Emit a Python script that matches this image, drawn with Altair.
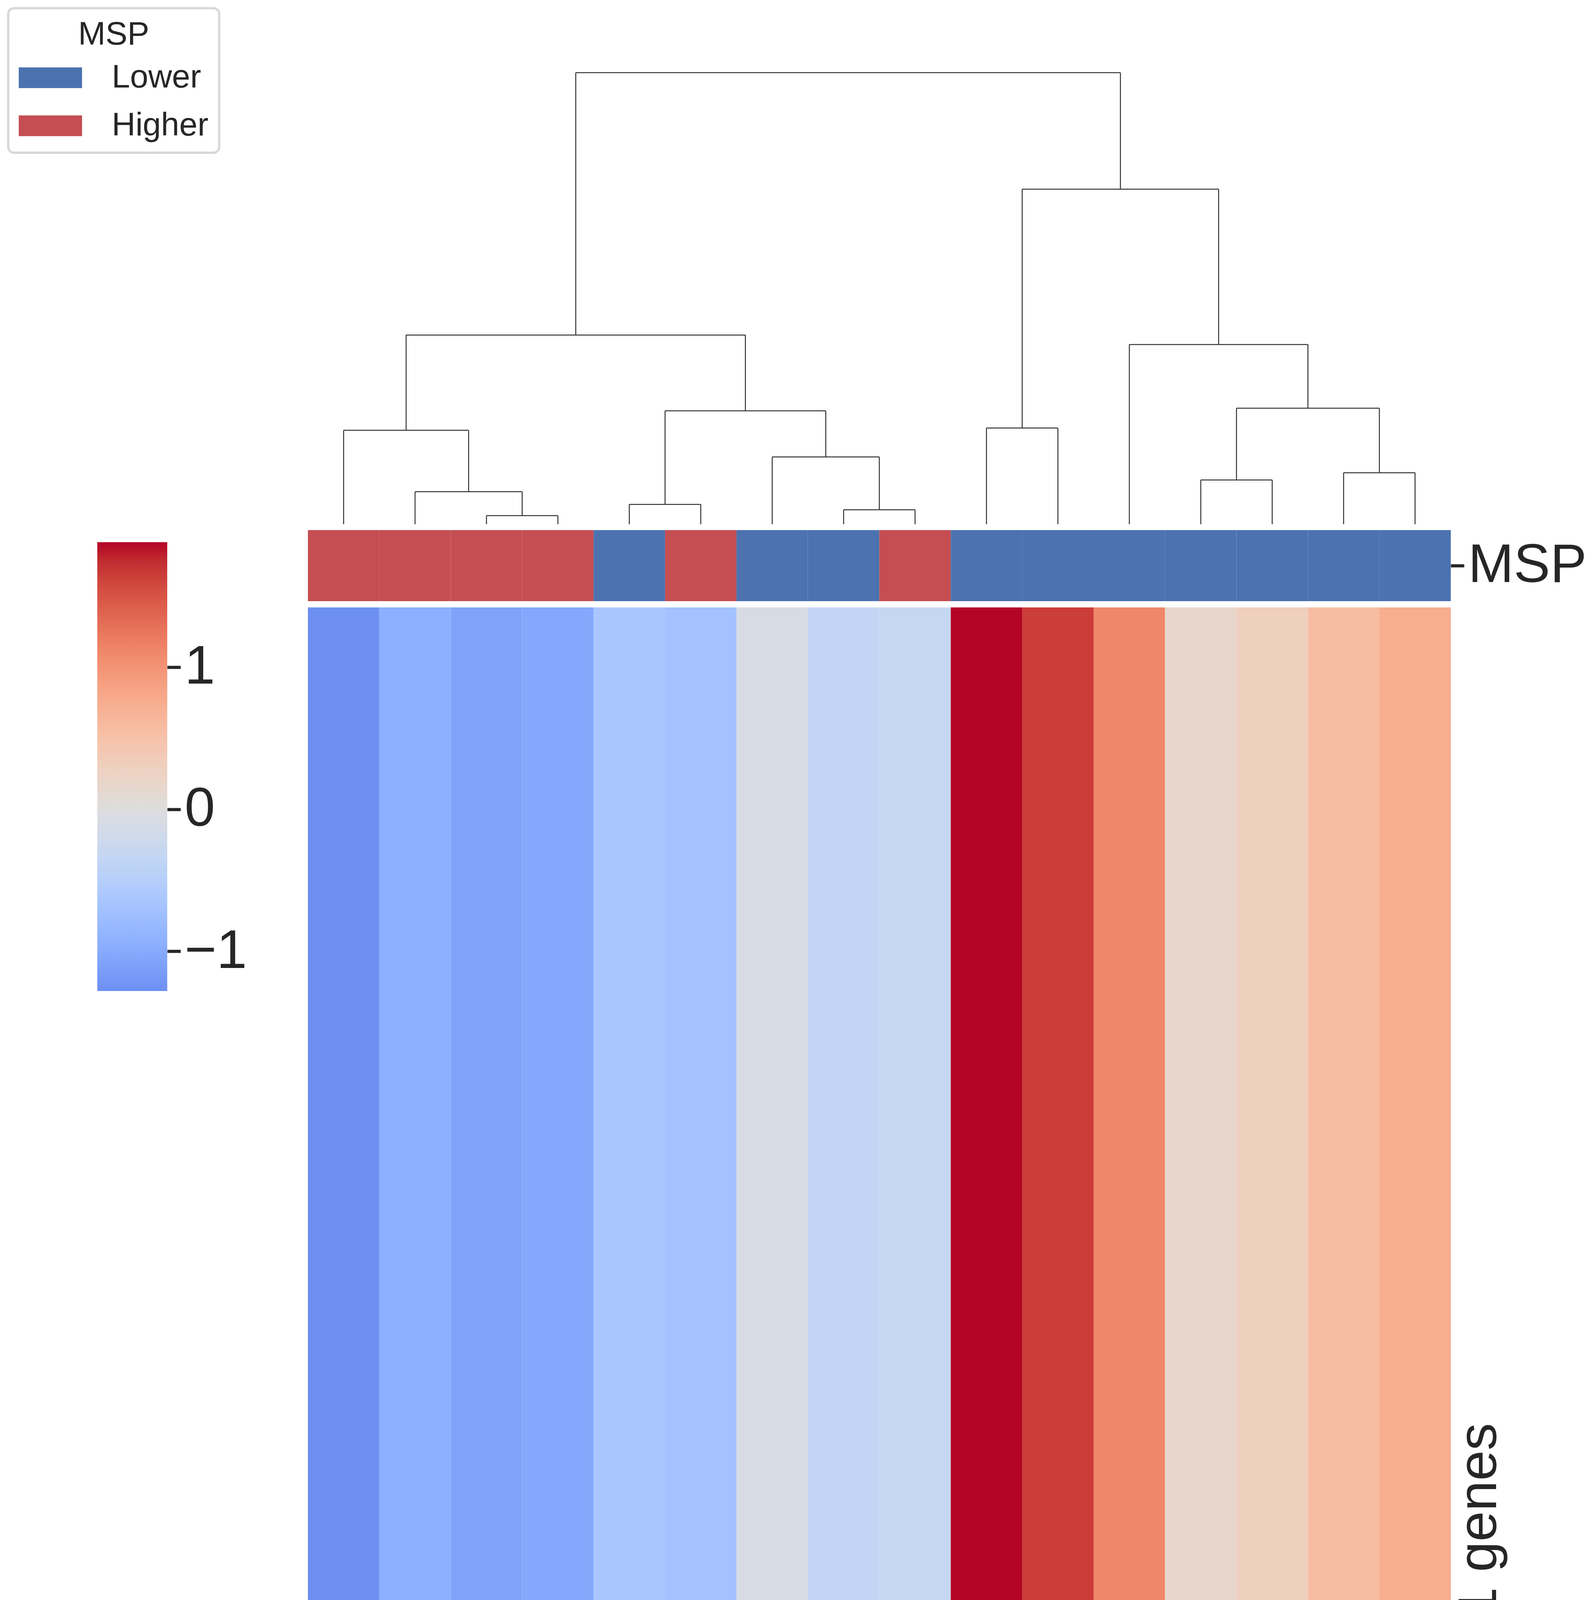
import altair as alt
import pandas as pd

# columns in the order the clustermap drew them (left to right)
samples = [f"S{i:02d}" for i in range(1, 17)]
msp_group = ["Higher", "Higher", "Higher", "Higher", "Lower", "Higher", "Lower", "Lower",
             "Higher", "Lower", "Lower", "Lower", "Lower", "Lower", "Lower", "Lower"]
expression = [-1.28, -0.94, -1.08, -1.03, -0.64, -0.70, -0.09, -0.35,
              -0.30, 1.88, 1.65, 1.10, 0.17, 0.30, 0.56, 0.75]

# dendrogram linkage: leaves are 0..15, merge k gets id 16 + k
link_left = [2, 1, 0, 4, 7, 6, 19, 18, 9, 12, 14, 25, 11, 24, 23]
link_right = [3, 16, 17, 5, 8, 20, 21, 22, 10, 13, 15, 26, 27, 28, 29]
link_height = [0.19, 0.72, 2.08, 0.44, 0.32, 1.49, 2.51, 4.19, 2.13, 0.98, 1.14, 2.57, 3.98, 7.42, 10.0]

msp_domain = ["Lower", "Higher"]
msp_colors = ["#4c72b0", "#c44e52"]

# matplotlib coolwarm, 33 stops
coolwarm = ["#3b4cc0", "#445acc", "#4d68d7", "#5775e1", "#6282ea", "#6c8ef1", "#779af7", "#82a5fb",
            "#8db0fe", "#98b9ff", "#a3c2ff", "#aec9fd", "#b8d0f9", "#c2d5f4", "#ccd9ee", "#d5dbe6",
            "#dddddd", "#e5d8d1", "#ecd3c5", "#f1ccb9", "#f5c4ad", "#f7bba0", "#f7b194", "#f7a687",
            "#f49a7b", "#f18d6f", "#ec7f63", "#e57058", "#de604d", "#d55042", "#cb3e38", "#c0282f",
            "#b40426"]

TXT = "#262626"

# ── tables ──
df = pd.DataFrame({"sample": samples, "msp": msp_group, "expression": expression})
df["gene"] = "gene"
df["track"] = "MSP"

pos = {i: i + 0.5 for i in range(len(samples))}
hgt = {i: 0.0 for i in range(len(samples))}
segs = []
for k, (a, b, h) in enumerate(zip(link_left, link_right, link_height)):
    xa, xb = pos[a], pos[b]
    segs.append(dict(x=xa, x2=xa, y=hgt[a], y2=h))
    segs.append(dict(x=xb, x2=xb, y=hgt[b], y2=h))
    segs.append(dict(x=xa, x2=xb, y=h, y2=h))
    pos[16 + k] = (xa + xb) / 2
    hgt[16 + k] = h
seg_df = pd.DataFrame(segs)

# seaborn centred colormap: 0 sits in the middle of coolwarm
vmin, vmax = min(expression), max(expression)
vrange = max(abs(vmin), abs(vmax))
n = len(coolwarm) - 1
cw_values = [(i / n - 0.5) * 2 * vrange for i in range(n + 1)]


def hex2rgb(h):
    return [int(h[i:i + 2], 16) for i in (1, 3, 5)]


def color_at(v):
    for i in range(n):
        if cw_values[i] <= v <= cw_values[i + 1]:
            f = (v - cw_values[i]) / (cw_values[i + 1] - cw_values[i])
            a, b = hex2rgb(coolwarm[i]), hex2rgb(coolwarm[i + 1])
            return "#" + "".join(f"{round(p + (q - p) * f):02x}" for p, q in zip(a, b))
    return coolwarm[-1]


stops = [alt.GradientStop(color=color_at(vmin), offset=0)]
for v, c in zip(cw_values, coolwarm):
    if vmin < v <= vmax:
        stops.append(alt.GradientStop(color=c, offset=(v - vmin) / (vmax - vmin)))
gradient = alt.LinearGradient(gradient="linear", stops=stops, x1=0, x2=0, y1=1, y2=0)

cbar_df = pd.DataFrame({"bar": ["cbar"], "lo": [vmin], "hi": [vmax]})

W, H = 2925, 4673

# ── dendrogram ──
dendro = alt.Chart(seg_df).mark_rule(color="#333333", strokeWidth=2.5).encode(
    x=alt.X("x:Q", scale=alt.Scale(domain=[0, 16], nice=False, zero=False), axis=None),
    x2="x2:Q",
    y=alt.Y("y:Q", scale=alt.Scale(domain=[0, 10], range=[-213, -1369], nice=False, zero=False),
            axis=None),
    y2="y2:Q",
)

# ── MSP colour track ──
msp = alt.Chart(df).mark_rect().encode(
    x=alt.X("sample:N", sort=samples, axis=None),
    y=alt.Y("track:N", scale=alt.Scale(range=[-198, -16]),
            axis=alt.Axis(orient="right", title=None, domain=False, ticks=True, tickSize=34,
                          tickWidth=8, tickColor=TXT, labelFontSize=140, labelColor=TXT,
                          labelPadding=10, labelLimit=2000, grid=False)),
    color=alt.Color("msp:N", scale=alt.Scale(domain=msp_domain, range=msp_colors),
                    legend=alt.Legend(
                        orient="none", legendX=-767, legendY=-1534,
                        title="MSP", titleFontSize=84, titleFontWeight="normal",
                        titleColor=TXT, titleAnchor="middle", titleAlign="center",
                        titlePadding=-14, titleLimit=2000,
                        labelFontSize=84, labelColor=TXT, labelOffset=76, labelLimit=2000,
                        symbolType="M-1,-0.327H1V0.327H-1Z", symbolSize=26244,
                        symbolStrokeWidth=0, symbolOpacity=1, rowPadding=-10,
                        padding=27, strokeColor="#d9d9d9",
                        cornerRadius=15, fillColor="white")),
)

# ── heatmap ──
heat = alt.Chart(df).mark_rect().encode(
    x=alt.X("sample:N", sort=samples,
            axis=alt.Axis(orient="bottom", title="16 samples", labels=False, ticks=False,
                          domain=False, grid=False, titleFontSize=140, titleLimit=3000,
                          titleFontWeight="normal", titleColor=TXT, titlePadding=0)),
    y=alt.Y("gene:N",
            axis=alt.Axis(orient="right", title="1 genes", labels=False, ticks=False,
                          domain=False, grid=False, titleFontSize=140, titleLimit=3000,
                          titleFontWeight="normal", titleColor=TXT, titleAngle=270,
                          titleBaseline="top", titlePadding=4)),
    color=alt.Color("expression:Q",
                    scale=alt.Scale(domain=cw_values, range=coolwarm, interpolate="rgb"),
                    legend=None),
)

# ── colour bar ──
cbar = alt.Chart(cbar_df).mark_rect(color=gradient).encode(
    x=alt.X("bar:N", scale=alt.Scale(range=[-539, -360]), axis=None),
    y=alt.Y("lo:Q", scale=alt.Scale(domain=[vmin, vmax], range=[982, -167], nice=False, zero=False),
            axis=alt.Axis(orient="right", offset=-(W + 360), values=[-1, 0, 1], format="d",
                          title=None, domain=False, grid=False, tickSize=34, tickWidth=8,
                          tickColor=TXT, labelFontSize=140, labelColor=TXT, labelPadding=10)),
    y2="hi:Q",
)

chart = alt.layer(dendro, msp, heat, cbar).resolve_scale(
    x="independent", y="independent", color="independent"
).properties(
    width=W, height=H,
    padding={"left": 10, "top": 10, "right": 0, "bottom": 0}
).configure(
    font="Liberation Sans"
).configure_legend(
    strokeWidth=6
).configure_view(stroke=None)

chart.save("out.html", embed_options={"renderer": "svg", "actions": False})
